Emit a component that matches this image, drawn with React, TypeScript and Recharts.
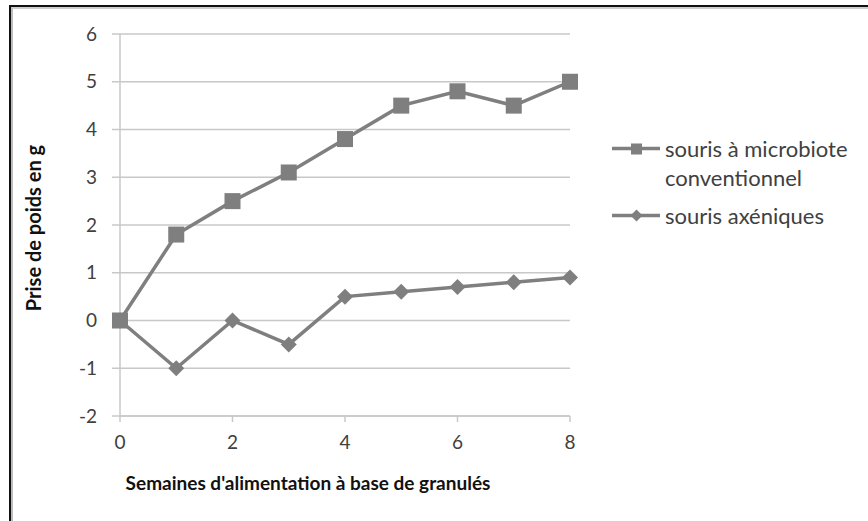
import React from "react";
import {
  LineChart,
  Line,
  XAxis,
  YAxis,
  CartesianGrid,
  Label,
} from "recharts";

const weeks = [0, 1, 2, 3, 4, 5, 6, 7, 8];
const conventionnel = [0, 1.8, 2.5, 3.1, 3.8, 4.5, 4.8, 4.5, 5.0];
const axeniques = [0, -1, 0, -0.5, 0.5, 0.6, 0.7, 0.8, 0.9];
const xTicks = [0, 2, 4, 6, 8];
const yTicks = [-2, -1, 0, 1, 2, 3, 4, 5, 6];

const data = weeks.map((w, i) => ({
  week: w,
  conv: conventionnel[i],
  axen: axeniques[i],
}));

const LINE = "#7f7f7f";
const TEXT = "#404040";
const FONT = "Lato, 'Open Sans', sans-serif";

function SquareDot(props: any) {
  const { cx, cy } = props;
  if (cx == null || cy == null) return null;
  return <rect x={cx - 8} y={cy - 8} width={16} height={16} fill={LINE} />;
}

function DiamondDot(props: any) {
  const { cx, cy } = props;
  if (cx == null || cy == null) return null;
  const r = 8;
  return (
    <polygon
      points={`${cx},${cy - r} ${cx + r},${cy} ${cx},${cy + r} ${cx - r},${cy}`}
      fill={LINE}
    />
  );
}

// legend drawn as a plain overlay so it doesn't steal plot space
function ChartLegend() {
  const row = (marker: React.ReactNode, lines: string[], top: number) => (
    <div style={{ position: "absolute", left: 0, top, display: "flex" }}>
      <svg width={53} height={29} style={{ flexShrink: 0 }}>
        <line x1={0} y1={14.5} x2={48} y2={14.5} stroke={LINE} strokeWidth={3.5} />
        {marker}
      </svg>
      <div style={{ lineHeight: "29px", fontSize: 22, color: TEXT, whiteSpace: "nowrap" }}>
        {lines.map((l) => (
          <div key={l}>{l}</div>
        ))}
      </div>
    </div>
  );
  return (
    <div
      style={{
        position: "absolute",
        left: 612,
        top: 134,
        width: 256,
        height: 110,
        fontFamily: FONT,
      }}
    >
      {row(
        <rect x={19} y={9.5} width={11} height={11} fill={LINE} />,
        ["souris à microbiote", "conventionnel"],
        0
      )}
      {row(
        <polygon points="24.5,8.5 30.5,14.5 24.5,20.5 18.5,14.5" fill={LINE} />,
        ["souris axéniques"],
        67
      )}
    </div>
  );
}

export default function App() {
  return (
    <div
      style={{
        position: "fixed",
        left: 0,
        top: 0,
        width: 868,
        height: 521,
        background: "#fff",
        overflow: "hidden",
      }}
    >
      <div
        style={{
          position: "absolute",
          left: 9,
          top: 5,
          right: 0,
          bottom: 0,
          borderLeft: "2px solid #111",
          borderTop: "2px solid #111",
        }}
      />
      <div
        style={{
          position: "absolute",
          left: 11,
          top: 7,
          right: 0,
          bottom: 0,
          borderLeft: "2px solid #bdbdbd",
          borderTop: "2px solid #cfcfcf",
        }}
      />
      <div style={{ position: "absolute", left: 0, top: 0 }}>
        <LineChart
          width={868}
          height={521}
          data={data}
          margin={{ top: 34, right: 298, bottom: 55, left: 0 }}
        >
          <CartesianGrid vertical={false} stroke="#c8c8c8" strokeWidth={1.5} />
          <XAxis
            dataKey="week"
            type="number"
            domain={[0, 8]}
            ticks={xTicks}
            height={50}
            stroke="#c8c8c8"
            strokeWidth={1.5}
            tickSize={6}
            tickMargin={14}
            tick={{ fill: TEXT, fontSize: 19, fontFamily: FONT }}
          >
            <Label
              content={(p: any) => {
                const vb = p.viewBox;
                return (
                  <text
                    x={vb.x + vb.width / 2 - 37}
                    y={vb.y + vb.height + 24}
                    textAnchor="middle"
                    fontFamily={FONT}
                    fontWeight="bold"
                    fontSize={19}
                    fill="#111"
                  >
                    Semaines d'alimentation à base de granulés
                  </text>
                );
              }}
            />
          </XAxis>
          <YAxis
            type="number"
            domain={[-2, 6]}
            ticks={yTicks}
            width={120}
            stroke="#c8c8c8"
            strokeWidth={1.5}
            tickSize={8}
            tickMargin={15}
            tick={{ fill: TEXT, fontSize: 19, fontFamily: FONT }}
          >
            <Label
              content={(p: any) => {
                const vb = p.viewBox;
                const cx = 33;
                const cy = vb.y + vb.height / 2 + 3;
                return (
                  <text
                    x={cx}
                    y={cy}
                    transform={`rotate(-90, ${cx}, ${cy})`}
                    textAnchor="middle"
                    dominantBaseline="central"
                    fontFamily={FONT}
                    fontWeight="bold"
                    fontSize={20}
                    fill="#111"
                  >
                    Prise de poids en g
                  </text>
                );
              }}
            />
          </YAxis>
          <Line
            dataKey="conv"
            name="souris à microbiote conventionnel"
            stroke={LINE}
            strokeWidth={3.5}
            dot={<SquareDot />}
            activeDot={false}
            isAnimationActive={false}
          />
          <Line
            dataKey="axen"
            name="souris axéniques"
            stroke={LINE}
            strokeWidth={3.5}
            dot={<DiamondDot />}
            activeDot={false}
            isAnimationActive={false}
          />
        </LineChart>
      </div>
      <ChartLegend />
    </div>
  );
}
